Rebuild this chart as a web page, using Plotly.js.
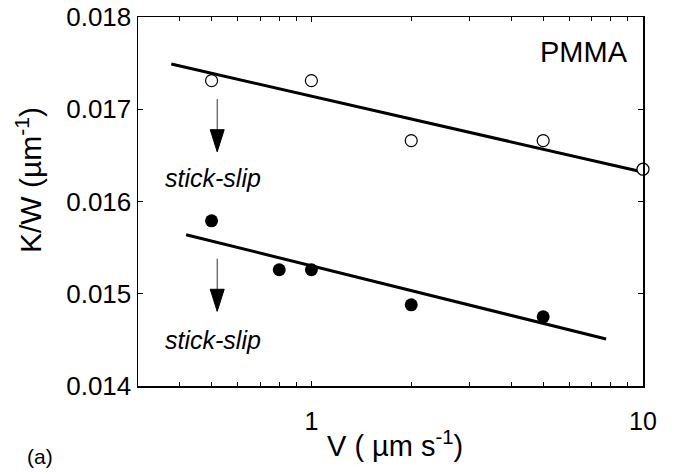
<!DOCTYPE html>
<html>
<head>
<meta charset="utf-8">
<script src="https://cdn.plot.ly/plotly-3.0.1.min.js"></script>
<style>
  html, body { margin: 0; padding: 0; background: #ffffff; }
  #chart { width: 681px; height: 472px; }
</style>
</head>
<body>
<div id="chart"></div>
<script>
// PMMA: K/W against sliding velocity V (log scale)
const vSteady = [0.5, 1, 2, 5, 10];
const kSteady = [0.01731, 0.01731, 0.01666, 0.01666, 0.01635];

const vStickSlip = [0.5, 0.8, 1, 2, 5];
const kStickSlip = [0.01579, 0.01526, 0.01526, 0.01488, 0.01475];

// straight-line fits (in log V) through each set
const vFitSteady = [0.378, 9.68];
const kFitSteady = [0.01749, 0.01633];
const vFitStickSlip = [0.419, 7.74];
const kFitStickSlip = [0.01564, 0.01451];

const xTickVals = [1, 10];
const xTickText = ['1', '10'];
const xMinorVals = [0.4, 0.5, 0.6, 0.7, 0.8, 0.9, 2, 3, 4, 5, 6, 7, 8, 9];

const FONT = 'Liberation Sans, Arial, Helvetica, sans-serif';
const xRange = [Math.log10(0.3), Math.log10(10)];

const traces = [
  { x: vFitSteady, y: kFitSteady, mode: 'lines', line: { color: '#000', width: 3 }, hoverinfo: 'skip' },
  { x: vFitStickSlip, y: kFitStickSlip, mode: 'lines', line: { color: '#000', width: 3 }, hoverinfo: 'skip' },
  { x: vSteady, y: kSteady, mode: 'markers', cliponaxis: false,
    marker: { symbol: 'circle', size: 12, color: '#fff', line: { color: '#000', width: 1.2 } } },
  { x: vStickSlip, y: kStickSlip, mode: 'markers', cliponaxis: false,
    marker: { symbol: 'circle', size: 13, color: '#000', line: { width: 0 } } }
];

// arrows pointing from the steady branch down to the stick-slip label
const arrowV = 0.52;
const arrows = [
  { tail: 0.01711, tip: 0.01654 },
  { tail: 0.01538, tip: 0.01481 }
];
const arrowFrac = (Math.log10(arrowV) - xRange[0]) / (xRange[1] - xRange[0]);

const shapes = [];
arrows.forEach(a => {
  shapes.push({ type: 'line', xref: 'paper', yref: 'y', x0: arrowFrac, x1: arrowFrac,
    y0: a.tail, y1: a.tip, line: { color: '#333', width: 1 } });
  shapes.push({ type: 'path', xref: 'paper', yref: 'y',
    xsizemode: 'pixel', ysizemode: 'pixel', xanchor: arrowFrac, yanchor: a.tip,
    path: 'M-7,22 L7,22 L0,0 Z', fillcolor: '#000', line: { color: '#000', width: 1 } });
});

const annotations = [
  { text: 'PMMA', xref: 'paper', yref: 'paper', x: 0.974, y: 0.905, xanchor: 'right', yanchor: 'middle',
    showarrow: false, font: { family: FONT, size: 29, color: '#000' } },
  { text: 'stick-slip', xref: 'x', yref: 'y', x: Math.log10(0.505), y: 0.01626,
    xanchor: 'center', yanchor: 'middle', showarrow: false,
    font: { family: FONT, size: 25, color: '#000', style: 'italic' } },
  { text: 'stick-slip', xref: 'x', yref: 'y', x: Math.log10(0.505), y: 0.01450,
    xanchor: 'center', yanchor: 'middle', showarrow: false,
    font: { family: FONT, size: 25, color: '#000', style: 'italic' } },
  { text: 'K/W (\u00b5m<sup>-1</sup>)', xref: 'paper', yref: 'paper', x: -0.216, y: 0.558, textangle: -90,
    xanchor: 'center', yanchor: 'middle', showarrow: false,
    font: { family: FONT, size: 30, color: '#000' } },
  { text: 'V ( \u00b5m s<sup>-1</sup>)', xref: 'paper', yref: 'paper', x: 0.509, y: -0.158,
    xanchor: 'center', yanchor: 'middle', showarrow: false,
    font: { family: FONT, size: 29, color: '#000' } },
  { text: '(a)', xref: 'paper', yref: 'paper', x: -0.194, y: -0.192, xanchor: 'center', yanchor: 'middle',
    showarrow: false, font: { family: FONT, size: 21, color: '#000' } }
];

const layout = {
  width: 681, height: 472,
  margin: { l: 138, r: 38, t: 17, b: 86 },
  paper_bgcolor: '#fff', plot_bgcolor: '#fff',
  showlegend: false,
  font: { family: FONT, color: '#000' },
  xaxis: {
    type: 'log', range: xRange,
    showline: true, linecolor: '#000', linewidth: 1.5, mirror: 'allticks',
    ticks: 'inside', ticklen: 5, tickwidth: 1, tickcolor: '#000',
    tickmode: 'array', tickvals: xTickVals, ticktext: xTickText,
    ticklabelstandoff: 12,
    tickfont: { family: FONT, size: 25, color: '#000' },
    minor: { ticks: 'inside', ticklen: 4, tickwidth: 1, tickcolor: '#000', tickmode: 'array', tickvals: xMinorVals },
    showgrid: false, zeroline: false
  },
  yaxis: {
    range: [0.014, 0.018], tick0: 0.014, dtick: 0.001, tickformat: '.3f',
    showline: true, linecolor: '#000', linewidth: 1.5, mirror: 'allticks',
    ticks: 'inside', ticklen: 5, tickwidth: 1, tickcolor: '#000',
    tickfont: { family: FONT, size: 26, color: '#000' },
    showgrid: false, zeroline: false
  },
  shapes: shapes,
  annotations: annotations
};

Plotly.newPlot('chart', traces, layout, { displayModeBar: false, staticPlot: true });
</script>
</body>
</html>
